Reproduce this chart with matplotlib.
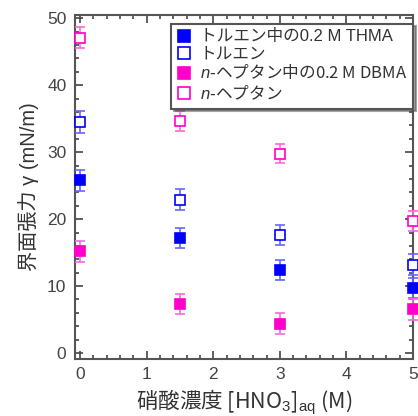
import matplotlib
matplotlib.use("Agg")
import matplotlib.pyplot as plt
from matplotlib.ticker import MultipleLocator
from matplotlib.lines import Line2D

plt.rcParams['font.family'] = ['Liberation Sans', 'Noto Sans CJK JP']
plt.rcParams['mathtext.fontset'] = 'custom'
plt.rcParams['mathtext.rm'] = 'Liberation Sans'
plt.rcParams['mathtext.it'] = 'Liberation Sans:italic'
CJK_FIRST = ['Noto Sans CJK JP', 'Liberation Sans']

x = [0, 1.5, 3, 5]
thma_tol = [25.8, 17.2, 12.4, 9.7]
tol = [34.5, 22.9, 17.6, 13.2]
dbma_hep = [15.2, 7.3, 4.4, 6.5]
hep = [47.1, 34.6, 29.8, 19.7]
err_thma = [1.6, 1.5, 1.5, 1.5]
err_tol = [1.6, 1.6, 1.5, 1.6]
err_dbma = [1.6, 1.5, 1.5, 1.6]
err_hep = [1.6, 1.5, 1.4, 1.5]

labels = ['トルエン中の0.2 M THMA', 'トルエン', '$n$-ヘプタン中の0.2 M DBMA', '$n$-ヘプタン']
blue = '#0000ff'
mag = '#ff00cc'

fig = plt.figure(figsize=(4.18, 4.16), dpi=100)
ax = fig.add_axes([0.179, 0.137, 0.809, 0.827])

series = [
    (thma_tol, err_thma, blue, True, '#6666ff'),
    (tol, err_tol, blue, False, '#6666ff'),
    (dbma_hep, err_dbma, mag, True, '#ff66e0'),
    (hep, err_hep, mag, False, '#ff66e0'),
]
handles = []
for (ys, es, c, filled, ec), lab in zip(series, labels):
    ax.errorbar(x, ys, yerr=es, fmt='s', ms=7.5, mec=c, mew=1.2,
                mfc=c if filled else 'white', ecolor=ec, elinewidth=1.2,
                capsize=3.5, capthick=1.2, clip_on=False, zorder=3)
    handles.append(Line2D([], [], ls='none', marker='s', ms=8, mec=c, mew=1.2,
                          mfc=c if filled else 'white', label=lab))

ax.set_xlim(-0.08, 5.0)
ax.set_ylim(-0.9, 50.5)
ax.xaxis.set_major_locator(MultipleLocator(1))
ax.xaxis.set_minor_locator(MultipleLocator(0.2))
ax.yaxis.set_major_locator(MultipleLocator(10))
ax.yaxis.set_minor_locator(MultipleLocator(2))
ax.tick_params(which='both', direction='in', top=True, right=True, color='#444444', width=1.2)
ax.tick_params(which='major', length=6, labelsize=12.5, labelcolor='#444444', pad=6)
ax.tick_params(which='minor', length=3)
for s in ax.spines.values():
    s.set_color('#555555')
    s.set_linewidth(1.5)

ax.set_ylabel('界面張力 γ (mN/m)', fontsize=14.5, color='#333333', labelpad=6)
ax.set_xlabel('硝酸濃度 [HNO$_3$]$_{\\rm aq}$ (M)', fontsize=15.5, color='#333333', labelpad=4,
              family=CJK_FIRST)

leg = ax.legend(handles=handles, loc='upper right', bbox_to_anchor=(1.0, 0.975), fontsize=12,
                frameon=True, fancybox=False, shadow=True, handlelength=0.9,
                handletextpad=0.5, borderpad=0.35, labelspacing=0.12, borderaxespad=0.0)
leg.get_frame().set_edgecolor('#555555')
leg.get_frame().set_linewidth(1.5)
for t in leg.get_texts():
    t.set_color('#333333')
    if '$' in t.get_text():
        t.set_family(CJK_FIRST)

fig.savefig('out.png', dpi=100)
